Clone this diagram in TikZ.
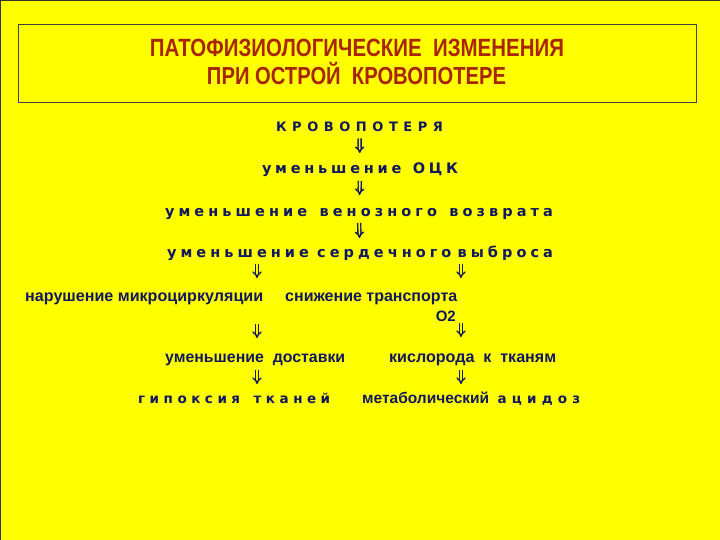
\documentclass[tikz,border=0pt]{standalone}
\usepackage{fontspec}
\setmainfont{Liberation Sans}
\newfontfamily\titlefont{Liberation Sans}[FakeStretch=0.82]
\newfontfamily\widefont{DejaVu Sans}
\usetikzlibrary{arrows.meta,calc}
\definecolor{bgy}{RGB}{255,255,0}
\definecolor{navy}{RGB}{18,24,95}
\definecolor{titlered}{RGB}{168,38,5}
\newcommand\gp{\hskip 0pt plus 1fil\relax}
\newcommand\wgp[1]{\hskip 0pt plus #1fil\relax}
\begin{document}
\begin{tikzpicture}[x=1pt,y=-1pt,
  txt/.style={inner sep=0pt, text=navy, font=\bfseries},
  wtxt/.style={inner sep=0pt, text=navy, font=\widefont\bfseries},
  ttl/.style={inner sep=0pt, anchor=base, text=titlered},
  dbl/.style={draw=navy, line width=1.4pt, double=bgy, double distance=1.6pt, -{Implies}},
]
\fill[bgy] (0,0) rectangle (720,540);
\useasboundingbox (0,0) rectangle (720,540);
\draw[line width=1pt, black!80] (0.5,540) -- (0.5,0.5) -- (720,0.5);
\draw[line width=0.6pt, black!75] (18,24) rectangle (696,102);

\node[ttl] (t1) at (357,57) {\resizebox{414pt}{!}{\titlefont\bfseries\fontsize{24}{24}\selectfont ПАТОФИЗИОЛОГИЧЕСКИЕ\ \ ИЗМЕНЕНИЯ}};
\node[ttl] (t2) at (356.5,85) {\resizebox{299pt}{!}{\titlefont\bfseries\fontsize{24}{24}\selectfont ПРИ ОСТРОЙ\ \ КРОВОПОТЕРЕ}};

\node[wtxt, anchor=base] (k) at (359.5,131.5) {\fontsize{13}{13}\selectfont\makebox[167pt][s]{К\gp Р\gp О\gp В\gp О\gp П\gp О\gp Т\gp Е\gp Р\gp Я}};
\node[wtxt, anchor=base] (ock) at (360,174) {\fontsize{14.5}{14.5}\selectfont\makebox[196pt][s]{у\gp м\gp е\gp н\gp ь\gp ш\gp е\gp н\gp и\gp е\wgp{3}О\gp Ц\gp К}};
\node[wtxt, anchor=base] (ven) at (359,217) {\fontsize{14.5}{14.5}\selectfont\makebox[388pt][s]{у\gp м\gp е\gp н\gp ь\gp ш\gp е\gp н\gp и\gp е\wgp{3}в\gp е\gp н\gp о\gp з\gp н\gp о\gp г\gp о\wgp{3}в\gp о\gp з\gp в\gp р\gp а\gp т\gp а}};
\node[wtxt, anchor=base] (card) at (360,257) {\fontsize{14.5}{14.5}\selectfont\makebox[386pt][s]{у\gp м\gp е\gp н\gp ь\gp ш\gp е\gp н\gp и\gp е\wgp{2}с\gp е\gp р\gp д\gp е\gp ч\gp н\gp о\gp г\gp о\wgp{1.5}в\gp ы\gp б\gp р\gp о\gp с\gp а}};

\node[txt, anchor=base west] (micro) at (25,301) {\resizebox{238pt}{!}{\fontsize{15}{15}\selectfont нарушение микроциркуляции}};
\node[txt, anchor=base west] (transp) at (285,301) {\resizebox{172pt}{!}{\fontsize{15}{15}\selectfont снижение транспорта}};
\node[txt, anchor=base east] (o2) at (456,321) {\fontsize{15}{15}\selectfont O2};
\node[txt, anchor=base west] (dost) at (165,362) {\resizebox{180pt}{!}{\fontsize{15}{15}\selectfont уменьшение\ \ доставки}};
\node[txt, anchor=base west] (kisl) at (389,362) {\resizebox{167pt}{!}{\fontsize{15}{15}\selectfont кислорода\ \ к\ \ тканям}};
\node[wtxt, anchor=base west] (hyp) at (138,403) {\fontsize{13.5}{13.5}\selectfont\makebox[192pt][s]{г\gp и\gp п\gp о\gp к\gp с\gp и\gp я\wgp{3}т\gp к\gp а\gp н\gp е\gp й}};
\node[txt, anchor=base west] (met) at (362,403) {\fontsize{15.5}{15.5}\selectfont\makebox[218pt][s]{метаболический\wgp{1.6}{\widefont\fontsize{13.5}{13.5}\selectfont а\gp ц\gp и\gp д\gp о\gp з}}};

\coordinate (ca) at (257,0);
\coordinate (cb) at (461,0);

\draw[dbl, shorten <=7pt, shorten >=21pt] (k.base) -- (ock.base);
\draw[dbl, shorten <=7pt, shorten >=22pt] (ock.base) -- (ven.base);
\draw[dbl, shorten <=6pt, shorten >=19pt] (ven.base) -- (card.base);
\draw[dbl, shorten <=7pt, shorten >=23pt] (card.base -| ca) -- (micro.base -| ca);
\draw[dbl, shorten <=7pt, shorten >=23pt] (card.base -| cb) -- (transp.base -| cb);
\draw[dbl, shorten <=23pt, shorten >=24pt] (micro.base -| ca) -- (dost.base -| ca);
\draw[dbl, shorten <=2pt, shorten >=25pt] (o2.base -| cb) -- (kisl.base -| cb);
\draw[dbl, shorten <=8pt, shorten >=19pt] (dost.base -| ca) -- (hyp.base -| ca);
\draw[dbl, shorten <=8pt, shorten >=19pt] (kisl.base -| cb) -- (met.base -| cb);
\end{tikzpicture}
\end{document}
